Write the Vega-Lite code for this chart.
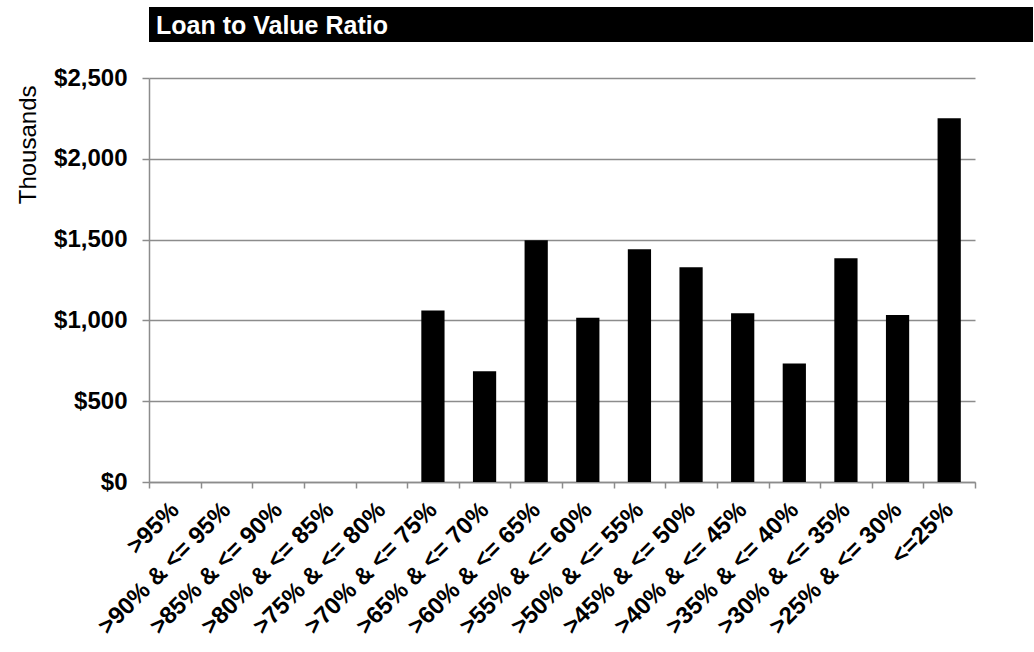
{
  "$schema": "https://vega.github.io/schema/vega-lite/v6.json",
  "padding": {"left": 16, "top": 7, "right": 0, "bottom": 0},
  "spacing": 24,
  "config": {"view": {"stroke": null}, "font": "Liberation Sans"},
  "vconcat": [
    {
      "width": 884,
      "height": 35,
      "view": {"fill": "black", "stroke": null},
      "data": {"values": [{"title": "Loan to Value Ratio"}]},
      "mark": {"type": "text", "align": "left", "baseline": "middle", "color": "white", "font": "Liberation Sans", "fontWeight": "bold", "fontSize": 25, "dx": 7, "dy": 1},
      "encoding": {
        "text": {"field": "title"},
        "x": {"datum": 0, "type": "quantitative", "scale": {"domain": [0, 1]}, "axis": null}
      }
    },
    {
      "width": 826,
      "height": 404,
      "data": {
        "values": [
          {"ltv": ">95%", "amount": 0},
          {"ltv": ">90% & <= 95%", "amount": 0},
          {"ltv": ">85% & <= 90%", "amount": 0},
          {"ltv": ">80% & <= 85%", "amount": 0},
          {"ltv": ">75% & <= 80%", "amount": 0},
          {"ltv": ">70% & <= 75%", "amount": 1062},
          {"ltv": ">65% & <= 70%", "amount": 685},
          {"ltv": ">60% & <= 65%", "amount": 1496},
          {"ltv": ">55% & <= 60%", "amount": 1017},
          {"ltv": ">50% & <= 55%", "amount": 1440},
          {"ltv": ">45% & <= 50%", "amount": 1329},
          {"ltv": ">40% & <= 45%", "amount": 1044},
          {"ltv": ">35% & <= 40%", "amount": 733},
          {"ltv": ">30% & <= 35%", "amount": 1384},
          {"ltv": ">25% & <= 30%", "amount": 1033},
          {"ltv": "<=25%", "amount": 2251}
        ]
      },
      "mark": {"type": "bar", "color": "black", "width": {"band": 0.45}},
      "encoding": {
        "x": {
          "field": "ltv",
          "type": "nominal",
          "sort": null,
          "scale": {"paddingInner": 0, "paddingOuter": 0},
          "axis": {
            "title": null,
            "tickBand": "extent",
            "labelAngle": -45,
            "labelAlign": "right",
            "labelBaseline": "middle",
            "labelFont": "Liberation Sans",
            "labelFontSize": 24,
            "labelFontWeight": "bold",
            "labelColor": "black",
            "labelPadding": 18,
            "tickSize": 6,
            "tickColor": "#8c8c8c",
            "tickWidth": 1.5,
            "domainColor": "#8c8c8c",
            "domainWidth": 1.5,
            "grid": false,
            "labelOverlap": false
          }
        },
        "y": {
          "field": "amount",
          "type": "quantitative",
          "scale": {"domain": [0, 2500]},
          "axis": {
            "title": "Thousands",
            "titleFont": "Liberation Sans",
            "titleFontSize": 24,
            "titleFontWeight": "normal",
            "titleColor": "black",
            "titlePadding": 13,
            "titleAnchor": "end",
            "titleY": 7,
            "values": [0, 500, 1000, 1500, 2000, 2500],
            "format": "$,.0f",
            "labelFont": "Liberation Sans",
            "labelFontSize": 24,
            "labelFontWeight": "bold",
            "labelColor": "black",
            "labelPadding": 15,
            "tickSize": 7,
            "tickColor": "#8c8c8c",
            "tickWidth": 1.5,
            "domainColor": "#8c8c8c",
            "domainWidth": 1.5,
            "grid": true,
            "gridColor": "#8c8c8c",
            "gridWidth": 1.5
          }
        }
      }
    }
  ]
}
